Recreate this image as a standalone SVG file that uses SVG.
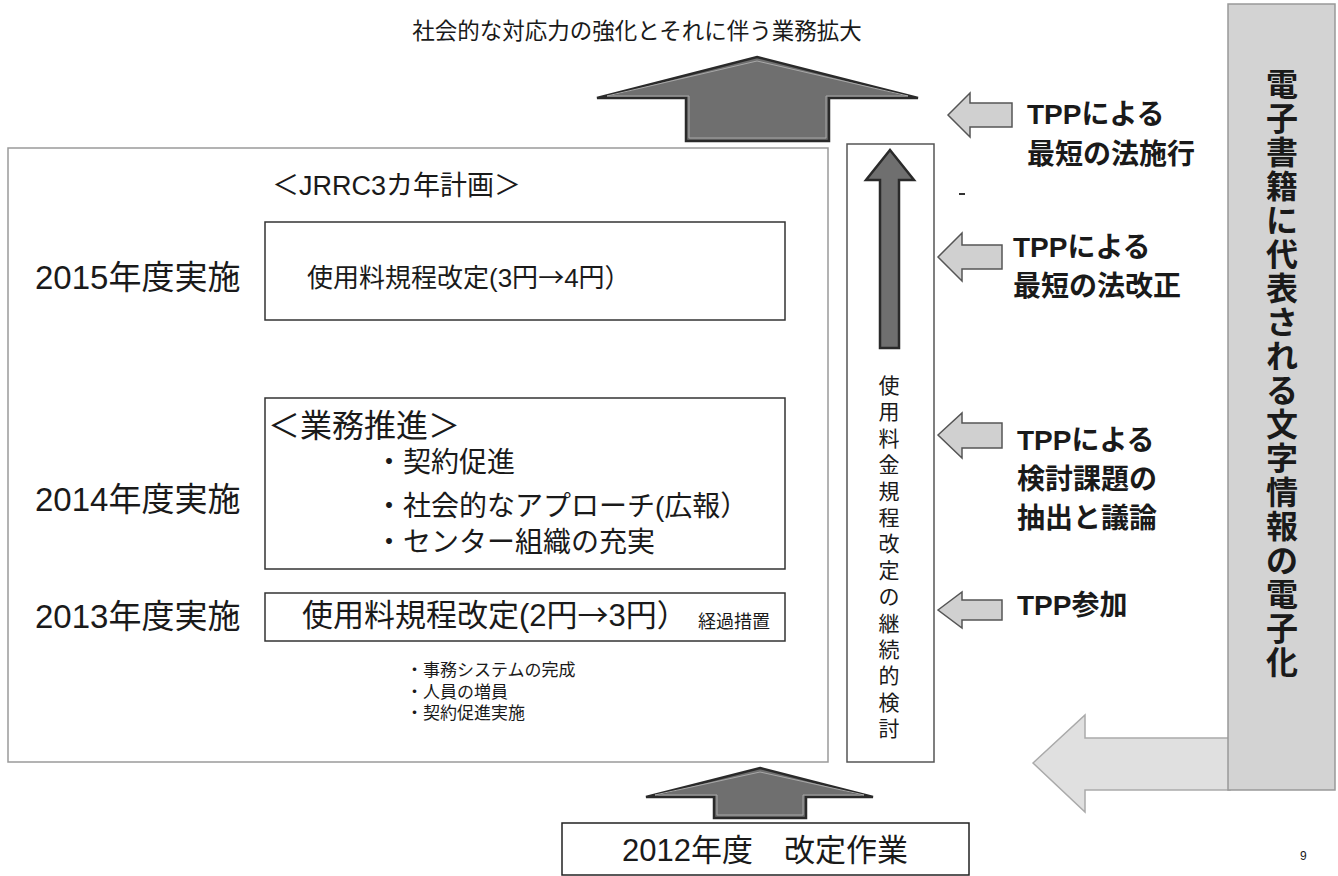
<svg xmlns="http://www.w3.org/2000/svg" width="1338" height="876" viewBox="0 0 1338 876">
<style>
text{font-family:"Liberation Sans","Noto Sans CJK JP",sans-serif;fill:#1a1a1a}
.b{font-weight:bold}
.cjk{font-family:"Noto Sans CJK JP",sans-serif}
.darr{fill:#6f6f6f;stroke:#2a2a2a;stroke-width:2.5;stroke-linejoin:miter}
.darr-in{fill:none;stroke:#a8a8a8;stroke-width:1}
.larr{fill:#d0d0d0;stroke:#555;stroke-width:1.5}
.box{fill:none;stroke:#333;stroke-width:1.5}
</style>
<rect width="1338" height="876" fill="#fff"/>

<g id="title">
<text x="637" y="39" font-size="22.5" text-anchor="middle">社会的な対応力の強化とそれに伴う業務拡大</text>
</g>

<g id="connectors">
<g id="top-arrow">
<polygon class="darr" points="757,57 918,98 829,98 829,141 686,141 686,98 597,98"/>
<polygon class="darr-in" points="757,61 908,96 826,96 826,138 689,138 689,96 607,96"/>
</g>
<g id="bottom-arrow">
<polygon class="darr" points="760,768 873,797 806,797 806,818 714,818 714,797 646,797"/>
<polygon class="darr-in" points="760,772 864,795 803,795 803,815 717,815 717,795 655,795"/>
</g>
<g id="review-arrow">
<polygon class="darr" points="890,150 914,180 899,180 899,348 880,348 880,180 866,180" fill="#555"/>
</g>
<g id="tpp-arrows">
<polygon class="larr" points="948,115 970,93 970,103 1012,103 1012,127 970,127 970,137"/>
<polygon class="larr" points="938,257 962,233 962,245 1002,245 1002,269 962,269 962,281"/>
<polygon class="larr" points="938,435 962,413 962,423 1002,423 1002,448 962,448 962,458"/>
<polygon class="larr" points="938,610 962,592 962,600 1002,600 1002,620 962,620 962,628"/>
</g>
<line x1="959" y1="194" x2="965" y2="194" stroke="#333" stroke-width="2"/>
</g>

<g id="plan">
<rect x="8" y="148" width="820" height="614" fill="none" stroke="#9a9a9a" stroke-width="1.5"/>
<text x="272" y="195" font-size="27">＜JRRC3カ年計画＞</text>
</g>

<g id="y2015">
<text x="35" y="289" font-size="33">2015年度実施</text>
<rect class="box" x="265" y="222" width="520" height="98"/>
<text x="307" y="287" font-size="26">使用料規程改定(3円<tspan class="cjk">→</tspan>4円）</text>
</g>

<g id="y2014">
<text x="35" y="511" font-size="33">2014年度実施</text>
<rect class="box" x="265" y="398" width="520" height="171"/>
<text x="268" y="437" font-size="32">＜業務推進＞</text>
<text x="375" y="472" font-size="28">・契約促進</text>
<text x="375" y="516" font-size="28">・社会的なアプローチ(広報）</text>
<text x="375" y="552" font-size="28">・センター組織の充実</text>
</g>

<g id="y2013">
<text x="35" y="628" font-size="33">2013年度実施</text>
<rect class="box" x="265" y="593" width="520" height="48"/>
<text x="302" y="626" font-size="31">使用料規程改定(2円<tspan class="cjk">→</tspan>3円）</text>
<text x="698" y="628" font-size="18">経過措置</text>
<text x="406" y="676" font-size="17">・事務システムの完成</text>
<text x="406" y="698" font-size="17">・人員の増員</text>
<text x="406" y="719" font-size="17">・契約促進実施</text>
</g>

<g id="review">
<rect x="847" y="144" width="87" height="618" fill="none" stroke="#555" stroke-width="1.5"/>
<text font-size="21" text-anchor="middle">
<tspan x="889" y="393">使</tspan><tspan x="889" y="419.4">用</tspan><tspan x="889" y="445.8">料</tspan><tspan x="889" y="472.2">金</tspan><tspan x="889" y="498.6">規</tspan><tspan x="889" y="525">程</tspan><tspan x="889" y="551.4">改</tspan><tspan x="889" y="577.8">定</tspan><tspan x="889" y="604.2">の</tspan><tspan x="889" y="630.6">継</tspan><tspan x="889" y="657">続</tspan><tspan x="889" y="683.4">的</tspan><tspan x="889" y="709.8">検</tspan><tspan x="889" y="736.2">討</tspan>
</text>
</g>

<g id="tpp1">
<text x="1027" y="124" font-size="28" class="b">TPPによる</text>
<text x="1027" y="164" font-size="28" class="b">最短の法施行</text>
</g>
<g id="tpp2">
<text x="1013" y="257" font-size="28" class="b">TPPによる</text>
<text x="1013" y="296" font-size="28" class="b">最短の法改正</text>
</g>
<g id="tpp3">
<text x="1017" y="450" font-size="28" class="b">TPPによる</text>
<text x="1017" y="489" font-size="28" class="b">検討課題の</text>
<text x="1017" y="528" font-size="28" class="b">抽出と議論</text>
</g>
<g id="tpp4">
<text x="1017" y="615" font-size="28" class="b">TPP参加</text>
</g>

<g id="digitization">
<polygon points="1033,763 1085,715 1085,738 1230,738 1230,790 1085,790 1085,812" fill="#e0e0e0" stroke="#aaa" stroke-width="1.5"/>
<rect x="1228" y="4" width="107" height="786" fill="#d3d3d3" stroke="#999" stroke-width="1.5"/>
<text font-size="32" class="b" text-anchor="middle">
<tspan x="1282" y="96">電</tspan><tspan x="1282" y="130">子</tspan><tspan x="1282" y="164">書</tspan><tspan x="1282" y="198">籍</tspan><tspan x="1282" y="232">に</tspan><tspan x="1282" y="266">代</tspan><tspan x="1282" y="300">表</tspan><tspan x="1282" y="334">さ</tspan><tspan x="1282" y="368">れ</tspan><tspan x="1282" y="402">る</tspan><tspan x="1282" y="436">文</tspan><tspan x="1282" y="470">字</tspan><tspan x="1282" y="504">情</tspan><tspan x="1282" y="538">報</tspan><tspan x="1282" y="572">の</tspan><tspan x="1282" y="606">電</tspan><tspan x="1282" y="640">子</tspan><tspan x="1282" y="674">化</tspan>
</text>
</g>

<g id="base">
<rect x="562" y="823" width="407" height="52" fill="none" stroke="#222" stroke-width="1.5"/>
<text x="765" y="861" font-size="31" text-anchor="middle">2012年度　改定作業</text>
</g>

<text x="1300" y="860" font-size="12">9</text>
</svg>
